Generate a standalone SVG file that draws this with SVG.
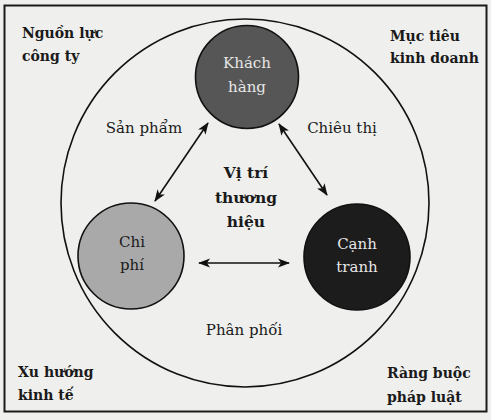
<svg xmlns="http://www.w3.org/2000/svg" width="491" height="420" viewBox="0 0 491 420">
<defs>
<style>
.t{font-family:"DejaVu Serif","Liberation Serif",serif;font-size:15px;fill:#1a1a1a}
.b{font-weight:bold;font-size:14px}
.v{font-weight:bold;font-size:15.5px}
.c{text-anchor:middle}
.w{fill:#e6e6e6}
.ln{stroke:#111;stroke-width:1.6;fill:none}
</style>
<marker id="ah" viewBox="0 0 12 10" refX="11" refY="5" markerWidth="12" markerHeight="10" markerUnits="userSpaceOnUse" orient="auto-start-reverse">
<path d="M0,0.5 L12,5 L0,9.5 L3,5 Z" fill="#111"/>
</marker>
</defs>
<rect x="0" y="0" width="491" height="420" fill="#efefed"/>
<rect id="frame" x="4.5" y="5.5" width="482" height="406" fill="none" stroke="#1a1a1a" stroke-width="2"/>
<g id="context">
<circle cx="245" cy="203" r="184" fill="none" stroke="#111" stroke-width="1.6"/>
</g>
<g id="corner-labels">
<text class="t b" x="22" y="38">Nguồn lực</text>
<text class="t b" x="22" y="61">công ty</text>
<text class="t b" x="390" y="41">Mục tiêu</text>
<text class="t b" x="390" y="63">kinh doanh</text>
<text class="t b" x="18" y="377">Xu hướng</text>
<text class="t b" x="18" y="400">kinh tế</text>
<text class="t b" x="387" y="378">Ràng buộc</text>
<text class="t b" x="387" y="402">pháp luật</text>
</g>
<g id="khach-hang">
<circle cx="247" cy="77" r="51.5" fill="#565656" stroke="#111" stroke-width="1.6"/>
<text class="t c w" x="247" y="68">Khách</text>
<text class="t c w" x="247" y="92">hàng</text>
</g>
<g id="chi-phi">
<circle cx="131" cy="256" r="53" fill="#a9a9a9" stroke="#111" stroke-width="1.6"/>
<text class="t c" x="132" y="247">Chi</text>
<text class="t c" x="132" y="270">phí</text>
</g>
<g id="canh-tranh">
<circle cx="357" cy="257" r="53" fill="#1c1c1c" stroke="#111" stroke-width="1.6"/>
<text class="t c w" x="357" y="249">Cạnh</text>
<text class="t c w" x="357" y="272">tranh</text>
</g>
<g id="vi-tri">
<text class="t v c" x="246" y="178">Vị trí</text>
<text class="t v c" x="246" y="203">thương</text>
<text class="t v c" x="246" y="227">hiệu</text>
</g>
<g id="connectors">
<line class="ln" x1="208" y1="123" x2="155" y2="201" marker-start="url(#ah)" marker-end="url(#ah)"/>
<line class="ln" x1="279" y1="124" x2="327" y2="195" marker-start="url(#ah)" marker-end="url(#ah)"/>
<line class="ln" x1="199" y1="263" x2="289" y2="263" marker-start="url(#ah)" marker-end="url(#ah)"/>
</g>
<g id="connector-labels">
<text class="t c" x="144" y="133">Sản phẩm</text>
<text class="t c" x="342" y="133">Chiêu thị</text>
<text class="t c" x="244" y="335">Phân phối</text>
</g>
</svg>
